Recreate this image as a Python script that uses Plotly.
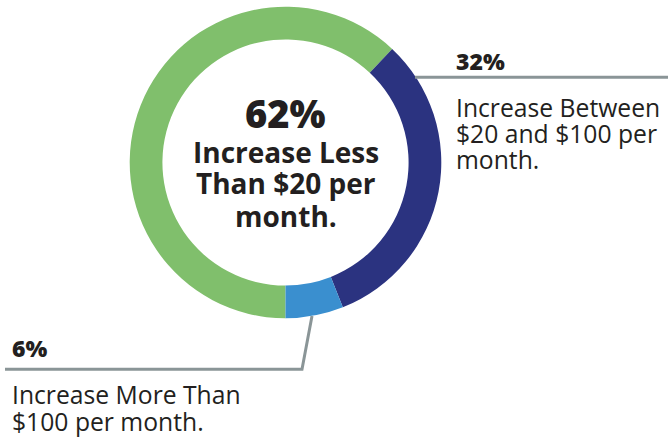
import plotly.graph_objects as go

W, H = 668, 440

labels = ["Increase Less Than $20 per month.",
          "Increase Between $20 and $100 per month.",
          "Increase More Than $100 per month."]
values = [62, 32, 6]
colors = ["#80bf6c", "#2b3380", "#3a8fcf"]

center_lines = ["Increase Less", "Than $20 per", "month."]
right_lines = ["Increase Between", "$20 and $100 per", "month."]
left_lines = ["Increase More Than", "$100 per month."]

TXT = "#231f20"
LINE = "#8a9597"
FONT = "Open Sans"

def px(x):
    return x / W

def py(y):
    return 1 - y / H

fig = go.Figure()
fig.add_trace(go.Pie(
    labels=labels, values=values, sort=False, direction="clockwise",
    rotation=180, hole=0.79, textinfo="none", hoverinfo="label+percent",
    marker=dict(colors=colors, line=dict(width=0)),
    domain=dict(x=[px(129.7), px(441.3)], y=[py(318.5), py(6.5)]),
    showlegend=False,
))

ann = []

def add(text, x, baseline, size, anchor="left", weight="normal"):
    ann.append(dict(
        text=text, x=px(x), y=py(baseline - 0.38 * size), xref="paper", yref="paper",
        xanchor=anchor, yanchor="middle", showarrow=False,
        font=dict(family=FONT, size=size, color=TXT, weight=weight),
    ))

# centre
add(f"{values[0]}%", 285.5, 127.5, 38, "center", 800)
for t, b in zip(center_lines, [162.7, 193.5, 226.5]):
    add(t, 285.5, b, 28, "center", "bold")

# right label
add(f"{values[1]}%", 454, 70, 23, "left", 800)
for t, b in zip(right_lines, [116.5, 142.5, 168.5]):
    add(t, 454, b, 24.7, "left", 500)

# left label
add(f"{values[2]}%", 10, 357, 23, "left", 800)
for t, b in zip(left_lines, [404, 431]):
    add(t, 10, b, 24.7, "left", 500)

shapes = [
    dict(type="line", xref="paper", yref="paper", x0=px(415), y0=py(77.3),
         x1=px(668), y1=py(77.3), line=dict(color=LINE, width=3)),
    dict(type="path", xref="paper", yref="paper",
         path=f"M {px(5)},{py(369.3)} L {px(302)},{py(369.3)} L {px(312)},{py(316)}",
         line=dict(color=LINE, width=3)),
]

fig.update_layout(
    width=W, height=H, margin=dict(l=0, r=0, t=0, b=0),
    paper_bgcolor="white", plot_bgcolor="white",
    annotations=ann, shapes=shapes,
)

fig.write_html("out.html", config={"displayModeBar": False},
               post_script="document.body.style.margin='0';")
